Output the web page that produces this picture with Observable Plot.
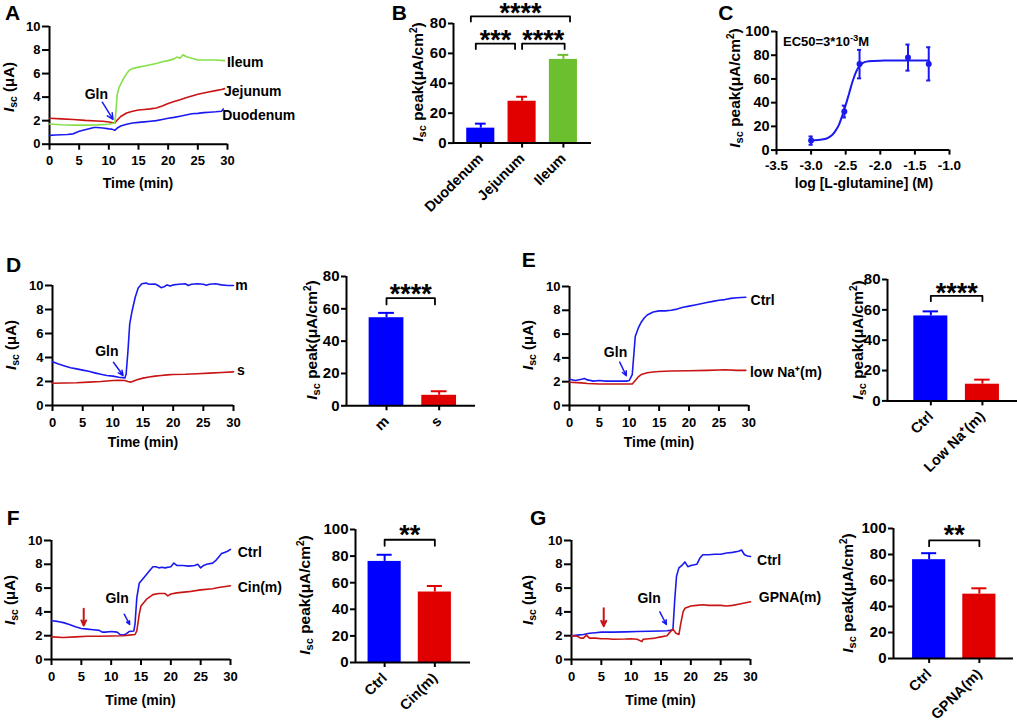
<!DOCTYPE html>
<html><head><meta charset="utf-8">
<script src="https://cdn.jsdelivr.net/npm/d3@7"></script>
<script src="https://cdn.jsdelivr.net/npm/@observablehq/plot@0.6"></script>
<style>
body{margin:0;background:#fff;}
#fig{position:relative;width:1017px;height:726px;overflow:hidden;background:#fff;font-family:"Liberation Sans",Arial,sans-serif;}
#fig svg{overflow:visible;}
</style></head><body><div id="fig"></div>
<script>
// ---------- DATA ----------
const timeTicks = [0,5,10,15,20,25,30];
const iscTicks = [0,2,4,6,8,10];

// Panel A traces [time(min), Isc(uA)]
const A_duodenum = [[0,0.75],[1,0.78],[2,0.8],[3,0.82],[4,0.88],[4.5,1.0],[5,1.1],[6,1.22],[7,1.35],[7.5,1.42],[8,1.42],[9,1.38],[10,1.3],[10.5,1.28],[11,1.18],[11.5,1.4],[12,1.55],[13,1.7],[14,1.8],[15,1.85],[16,1.9],[17,1.95],[18,2.0],[19,2.1],[20,2.2],[21,2.28],[22,2.38],[23,2.48],[24,2.58],[25,2.62],[26,2.68],[27,2.72],[28,2.75],[29,2.8],[29.3,3.0]];
const A_jejunum = [[0,2.2],[2,2.15],[4,2.1],[6,2.02],[8,1.97],[9,1.95],[10,1.88],[11,1.8],[11.5,2.1],[12,2.35],[13,2.65],[14,2.8],[15,2.9],[16,2.95],[17,3.0],[18,3.08],[19,3.25],[20,3.45],[21,3.62],[22,3.78],[23,3.95],[24,4.1],[25,4.25],[26,4.35],[27,4.45],[28,4.55],[29,4.65],[29.5,4.72]];
const A_ileum = [[0,1.72],[2,1.65],[4,1.62],[6,1.62],[8,1.64],[10,1.7],[11,1.8],[11.2,2.8],[11.4,4.2],[11.7,4.8],[12,5.1],[12.5,5.6],[13,6.0],[13.5,6.3],[14,6.42],[15,6.55],[16,6.65],[17,6.75],[18,6.85],[19,7.0],[20,7.1],[21,7.25],[21.5,7.4],[22,7.3],[22.5,7.6],[23,7.45],[24,7.3],[25,7.15],[26,7.15],[27,7.15],[28,7.15],[29.5,7.1]];

// Panel B
const B_cats = ["Duodenum","Jejunum","Ileum"];
const B_mean = [10,28,56];
const B_err = [3,3,3];

// Panel C dose-response
const C_logConc = [-3.0,-2.52,-2.3,-1.6,-1.3];
const C_mean = [8,32.5,72.5,78,72.7];
const C_err = [3.5,5,12,11,14];
const C_fitX = [-3.0,-2.9,-2.8,-2.75,-2.7,-2.65,-2.6,-2.55,-2.5,-2.45,-2.4,-2.35,-2.3,-2.25,-2.2,-2.1,-2.0,-1.8,-1.6,-1.3];
const C_fitY = [8.3,8.5,9.3,10.5,12.5,16,21,29,38,48,58,66,71,73.5,74.6,75.2,75.4,75.5,75.5,75.5];

// Panel D
const D_m = [[0,3.65],[1,3.45],[2,3.3],[3,3.15],[4,3.05],[5,2.95],[6,2.85],[7,2.72],[8,2.6],[9,2.5],[10,2.45],[11,2.35],[12,2.3],[12.2,2.6],[12.5,4.5],[12.8,6.8],[13.2,7.9],[13.7,9.0],[14.2,9.8],[14.8,10.15],[15.5,10.2],[16,10.1],[17,10.12],[17.5,10.0],[18,9.82],[18.5,9.9],[19,10.05],[19.5,9.95],[20,10.05],[21,10.1],[22,10.15],[22.5,10.0],[23,10.1],[24,10.15],[25,10.1],[25.5,10.02],[26,10.1],[27,10.15],[28,10.05],[29,10.0],[30,10.0]];
const D_s = [[0,1.85],[2,1.88],[4,1.9],[6,1.95],[8,2.0],[10,2.08],[11,2.1],[12,2.08],[12.5,2.0],[13,1.95],[13.5,2.05],[14,2.15],[15,2.28],[16,2.38],[17,2.45],[18,2.5],[19,2.55],[20,2.58],[22,2.6],[24,2.65],[26,2.7],[28,2.75],[30,2.8]];
const D_cats = ["m","s"];
const D_mean = [54.5,6.5];
const D_err = [3,2.5];

// Panel E
const E_ctrl = [[0,2.2],[1,2.1],[2,2.2],[2.5,2.27],[3,2.15],[4,2.05],[5,2.1],[6,2.05],[8,2.05],[9.5,2.05],[10,2.1],[10.5,2.6],[11,5.8],[11.5,6.5],[12,7.0],[12.5,7.35],[13,7.6],[14,7.85],[15,7.95],[16,7.95],[17,8.0],[18,8.1],[19,8.25],[20,8.35],[21,8.45],[22,8.55],[23,8.65],[24,8.75],[25,8.85],[26,8.9],[27,9.0],[28,9.05],[29.5,9.1]];
const E_lowNa = [[0,1.95],[2,1.9],[3,1.85],[5,1.8],[8,1.8],[10.5,1.8],[11,2.1],[11.5,2.4],[12,2.6],[13,2.75],[14,2.82],[15,2.85],[17,2.9],[20,2.92],[23,2.95],[25,2.98],[26,3.0],[28,2.95],[29.5,2.95]];
const E_cats = ["Ctrl","Low Na\u207A(m)"];
const E_mean = [56,11];
const E_err = [3,3];

// Panel F
const F_ctrl = [[0,3.25],[1,3.2],[2,3.1],[3,2.95],[4,2.75],[5,2.6],[6,2.55],[7,2.5],[8,2.45],[8.5,2.3],[9,2.3],[10,2.35],[11,2.3],[11.5,2.1],[12,2.05],[12.5,2.15],[13,2.35],[13.8,2.4],[14,3.0],[14.3,5.2],[14.7,6.4],[15.5,6.9],[16.5,7.5],[17,7.8],[17.5,7.8],[18,7.7],[18.5,7.75],[19,7.7],[20,7.8],[20.5,8.1],[21,7.9],[22,7.9],[23,7.85],[24,7.9],[24.5,8.0],[25,7.7],[25.5,7.9],[26,8.0],[27,8.1],[27.5,8.3],[28,8.6],[28.5,8.9],[29,9.0],[29.5,9.1],[30,9.25]];
const F_cin = [[0,1.9],[2,1.85],[4,1.9],[6,1.95],[8,1.95],[10,1.98],[12,2.0],[13,2.05],[14,2.1],[14.3,2.4],[14.7,3.8],[15,4.5],[16,5.1],[17,5.45],[18,5.55],[19,5.55],[19.5,5.35],[20,5.5],[21,5.6],[23,5.7],[25,5.85],[27,5.95],[28,6.05],[30,6.2]];
const F_cats = ["Ctrl","Cin(m)"];
const F_mean = [76,53];
const F_err = [5,4.5];

// Panel G
const G_ctrl = [[0,2.0],[1,2.05],[2,2.1],[3,2.2],[4,2.25],[5,2.3],[7,2.3],[9,2.32],[11,2.35],[13,2.37],[15,2.4],[16,2.42],[16.5,2.45],[17,2.5],[17.3,5.0],[17.6,7.0],[18,7.7],[18.5,7.9],[19,8.2],[19.5,7.8],[20,7.9],[21,8.0],[21.5,8.5],[22,8.8],[23,8.8],[24,8.85],[25,8.85],[26,8.95],[27,9.0],[28,9.1],[28.5,9.2],[29,8.8],[29.5,8.7],[30,8.65]];
const G_gpna = [[0,2.0],[1,1.95],[1.5,1.8],[2,1.8],[2.5,2.05],[3,1.8],[4,1.8],[5,1.75],[6,1.75],[7,1.7],[9,1.72],[10,1.75],[11,1.7],[11.8,1.5],[12,1.7],[13,1.75],[14,1.8],[15,1.9],[16,2.0],[16.5,2.3],[17,2.55],[17.5,2.2],[18,2.1],[18.3,3.0],[18.7,4.0],[19,4.3],[20,4.5],[21,4.55],[22,4.6],[23,4.55],[24,4.55],[25,4.55],[26,4.5],[27,4.55],[28,4.65],[29,4.75],[30,4.85]];
const G_cats = ["Ctrl","GPNA(m)"];
const G_mean = [76,49.5];
const G_err = [5,4.5];

// ---------- STYLE ----------
const FONT = "Liberation Sans, Arial, Helvetica, sans-serif";
const L_BLUE = "#1a1af0", L_RED = "#c81414", L_GREEN = "#86e04a";
const B_BLUE = "#0000ff", B_RED = "#e00000", B_GREEN = "#6cbf2e";

const fig = document.getElementById("fig");
const rowsOf = pairs => pairs.map(([t, v]) => ({t, v}));

function mount(p, left, top) {
  p.style.position = "absolute";
  p.style.left = left + "px";
  p.style.top = top + "px";
  fig.appendChild(p);
}

function tracePanel(cfg) {
  const [x0, x1, yTop, yBot] = cfg.frame;
  const ml = 45, mr = 110, mt = 10, mb = 40;
  const marks = [
    Plot.ruleY([0], {strokeWidth: 2}),
    Plot.ruleX([0], {strokeWidth: 2}),
    Plot.axisX({ticks: timeTicks, tickSize: 6, tickPadding: 6, strokeWidth: 2, fontSize: 13, fontWeight: "bold", label: null}),
    Plot.axisY({ticks: iscTicks, tickSize: 7, tickPadding: 2, strokeWidth: 2, fontSize: 13, fontWeight: "bold", label: null})
  ];
  for (const s of cfg.series) {
    marks.push(Plot.line(rowsOf(s.data), {x: "t", y: "v", stroke: s.color, strokeWidth: 1.6}));
  }
  marks.push(Plot.text(cfg.labels, {x: "t", y: "v", text: "label", textAnchor: "start", fontSize: 14, fontWeight: "bold"}));
  marks.push(Plot.text([cfg.gln], {x: "t", y: "v", text: () => "Gln", fontSize: 14, fontWeight: "bold"}));
  marks.push(Plot.arrow([cfg.glnArrow], {x1: "x1", y1: "y1", x2: "x2", y2: "y2", stroke: L_BLUE, strokeWidth: 1.5, headLength: 9, headAngle: 50}));
  if (cfg.redArrow) marks.push(Plot.arrow([cfg.redArrow], {x1: "x1", y1: "y1", x2: "x2", y2: "y2", stroke: L_RED, strokeWidth: 2, headLength: 8, headAngle: 50}));
  const p = Plot.plot({
    width: x1 - x0 + ml + mr, height: yBot - yTop + mt + mb,
    marginLeft: ml, marginRight: mr, marginTop: mt, marginBottom: mb,
    style: {background: "transparent", overflow: "visible", fontFamily: FONT, color: "#000"},
    x: {domain: [0, 30]}, y: {domain: [0, 10]},
    marks
  });
  mount(p, x0 - ml, yTop - mt);
}

function barPanel(cfg) {
  const [x0, x1, yTop, yBot] = cfg.frame;
  const ml = 45, mr = 20, mt = 40, mb = 90;
  const rows = cfg.cats.map((c, i) => ({i: i + 1, cat: c, v: cfg.mean[i], e: cfg.err[i], color: cfg.colors[i]}));
  const hw = cfg.hw, cw = cfg.cw;
  const br = cfg.brackets.flatMap((b, k) => [[b.x1, b.drop], [b.x1, b.top], [b.x2, b.top], [b.x2, b.drop]].map(([x, y]) => ({x, y, k})));
  const p = Plot.plot({
    width: x1 - x0 + ml + mr, height: yBot - yTop + mt + mb,
    marginLeft: ml, marginRight: mr, marginTop: mt, marginBottom: mb,
    style: {background: "transparent", overflow: "visible", fontFamily: FONT, color: "#000"},
    x: {domain: cfg.xdomain}, y: {domain: cfg.ydomain},
    color: {type: "identity"},
    marks: [
      Plot.rect(rows, {x1: d => d.i - hw, x2: d => d.i + hw, y1: () => 0, y2: "v", fill: "color"}),
      Plot.ruleX(rows, {x: "i", y1: "v", y2: d => d.v + d.e, stroke: "color", strokeWidth: 2}),
      Plot.ruleY(rows, {y: d => d.v + d.e, x1: d => d.i - cw, x2: d => d.i + cw, stroke: "color", strokeWidth: 2}),
      Plot.ruleY([0], {strokeWidth: 2}),
      Plot.ruleX([cfg.xdomain[0]], {strokeWidth: 2}),
      Plot.axisY({ticks: cfg.yticks, tickSize: 5, tickPadding: 2, strokeWidth: 2, fontSize: 15, fontWeight: "bold", label: null}),
      Plot.axisX({ticks: rows.map(d => d.i), tickFormat: i => cfg.cats[i - 1], tickRotate: -45, tickSize: 5, tickPadding: 8, strokeWidth: 2, fontSize: 14.5, fontWeight: "bold", label: null}),
      Plot.line(br, {x: "x", y: "y", z: "k", strokeWidth: 1.8}),
      Plot.text(cfg.brackets, {x: d => (d.x1 + d.x2) / 2, y: "star", text: "label", fontSize: 27, fontWeight: "bold", dy: 8})
    ]
  });
  mount(p, x0 - ml, yTop - mt);
}

// ---------- PANELS ----------
tracePanel({
  frame: [49, 227, 26, 143.7],
  series: [{data: A_duodenum, color: L_BLUE}, {data: A_jejunum, color: L_RED}, {data: A_ileum, color: L_GREEN}],
  labels: [{t: 29.9, v: 6.97, label: "Ileum"}, {t: 29.4, v: 4.5, label: "Jejunum"}, {t: 29.1, v: 2.44, label: "Duodenum"}],
  gln: {t: 7.9, v: 4.2},
  glnArrow: {x1: 8.9, y1: 3.57, x2: 10.7, y2: 2.1}
});

barPanel({
  frame: [452.7, 590.7, 22.7, 142.3], xdomain: [0.34, 3.68], ydomain: [0, 80], yticks: [0, 20, 40, 60, 80],
  cats: B_cats, mean: B_mean, err: B_err, colors: [B_BLUE, B_RED, B_GREEN], hw: 0.34, cw: 0.13,
  brackets: [
    {x1: 0.88, x2: 1.83, top: 66.6, drop: 62.9, star: 74, label: "***"},
    {x1: 2.0, x2: 3.03, top: 66.6, drop: 62.9, star: 74, label: "****"},
    {x1: 0.76, x2: 3.16, top: 84.7, drop: 81.3, star: 91.8, label: "****"}
  ]
});

// Panel C
{
  const ml = 45, mr = 20, mt = 10, mb = 40;
  const x0 = 775.7, x1 = 948.7, yTop = 30.7, yBot = 149.3;
  const pts = C_logConc.map((x, i) => ({x, v: C_mean[i], e: C_err[i]}));
  const fit = C_fitX.map((x, i) => ({x, y: C_fitY[i]}));
  const cw = 0.03;
  const p = Plot.plot({
    width: x1 - x0 + ml + mr, height: yBot - yTop + mt + mb,
    marginLeft: ml, marginRight: mr, marginTop: mt, marginBottom: mb,
    style: {background: "transparent", overflow: "visible", fontFamily: FONT, color: "#000"},
    x: {domain: [-3.5, -1.0]}, y: {domain: [0, 100]},
    marks: [
      Plot.ruleY([0], {strokeWidth: 2}),
      Plot.ruleX([-3.5], {strokeWidth: 2}),
      Plot.axisX({ticks: [-3.5, -3.0, -2.5, -2.0, -1.5, -1.0], tickFormat: d => d.toFixed(1), tickSize: 5, tickPadding: 5, strokeWidth: 2, fontSize: 13.5, fontWeight: "bold", label: null}),
      Plot.axisY({ticks: [0, 20, 40, 60, 80, 100], tickSize: 5, tickPadding: 2, strokeWidth: 2, fontSize: 14.5, fontWeight: "bold", label: null}),
      Plot.line(fit, {x: "x", y: "y", stroke: L_BLUE, strokeWidth: 2, curve: "monotone-x"}),
      Plot.ruleX(pts, {x: "x", y1: d => d.v - d.e, y2: d => d.v + d.e, stroke: L_BLUE, strokeWidth: 2}),
      Plot.ruleY(pts, {y: d => d.v + d.e, x1: d => d.x - cw, x2: d => d.x + cw, stroke: L_BLUE, strokeWidth: 2}),
      Plot.ruleY(pts, {y: d => d.v - d.e, x1: d => d.x - cw, x2: d => d.x + cw, stroke: L_BLUE, strokeWidth: 2}),
      Plot.dot(pts, {x: "x", y: "v", r: 3, fill: L_BLUE})
    ]
  });
  mount(p, x0 - ml, yTop - mt);
}

tracePanel({
  frame: [52.3, 233.3, 285.3, 405.3],
  series: [{data: D_m, color: L_BLUE}, {data: D_s, color: L_RED}],
  labels: [{t: 30.3, v: 9.97, label: "m"}, {t: 30.6, v: 2.88, label: "s"}],
  gln: {t: 9.0, v: 4.5},
  glnArrow: {x1: 10.1, y1: 3.6, x2: 11.7, y2: 2.5}
});
barPanel({
  frame: [346, 475, 276, 405.3], xdomain: [0.24, 2.69], ydomain: [0, 80], yticks: [0, 20, 40, 60, 80],
  cats: D_cats, mean: D_mean, err: D_err, colors: [B_BLUE, B_RED], hw: 0.33, cw: 0.15,
  brackets: [{x1: 1, x2: 1.92, top: 66.6, drop: 62.7, star: 73.8, label: "****"}]
});

tracePanel({
  frame: [569, 748.3, 286, 405],
  series: [{data: E_ctrl, color: L_BLUE}, {data: E_lowNa, color: L_RED}],
  labels: [{t: 30.3, v: 8.8, label: "Ctrl"}, {t: 30.2, v: 2.8, label: "low Na\u207A(m)"}],
  gln: {t: 7.7, v: 4.48},
  glnArrow: {x1: 8.4, y1: 3.65, x2: 9.5, y2: 2.5}
});
barPanel({
  frame: [886.7, 1016.7, 279.3, 400.7], xdomain: [0.16, 2.68], ydomain: [0, 80], yticks: [0, 20, 40, 60, 80],
  cats: E_cats, mean: E_mean, err: E_err, colors: [B_BLUE, B_RED], hw: 0.33, cw: 0.15,
  brackets: [{x1: 1, x2: 2, top: 69.2, drop: 65.7, star: 76.2, label: "****"}]
});

tracePanel({
  frame: [51, 230, 540, 659],
  series: [{data: F_ctrl, color: L_BLUE}, {data: F_cin, color: L_RED}],
  labels: [{t: 31.2, v: 9.0, label: "Ctrl"}, {t: 31.2, v: 6.08, label: "Cin(m)"}],
  gln: {t: 11.0, v: 5.1},
  glnArrow: {x1: 12.2, y1: 3.8, x2: 13.1, y2: 2.94},
  redArrow: {x1: 5.4, y1: 4.26, x2: 5.4, y2: 2.86}
});
barPanel({
  frame: [355, 470, 528.7, 661.7], xdomain: [0.42, 2.71], ydomain: [0, 100], yticks: [0, 20, 40, 60, 80, 100],
  cats: F_cats, mean: F_mean, err: F_err, colors: [B_BLUE, B_RED], hw: 0.33, cw: 0.15,
  brackets: [{x1: 1, x2: 2, top: 92.3, drop: 87.7, star: 101.5, label: "**"}]
});

tracePanel({
  frame: [571, 750, 540, 659],
  series: [{data: G_ctrl, color: L_BLUE}, {data: G_gpna, color: L_RED}],
  labels: [{t: 31.1, v: 8.3, label: "Ctrl"}, {t: 31.4, v: 5.2, label: "GPNA(m)"}],
  gln: {t: 13.0, v: 5.1},
  glnArrow: {x1: 14.8, y1: 4.0, x2: 15.9, y2: 2.94},
  redArrow: {x1: 5.4, y1: 4.3, x2: 5.4, y2: 2.8}
});
barPanel({
  frame: [893.3, 1013.3, 528.3, 658.3], xdomain: [0.29, 2.68], ydomain: [0, 100], yticks: [0, 20, 40, 60, 80, 100],
  cats: G_cats, mean: G_mean, err: G_err, colors: [B_BLUE, B_RED], hw: 0.33, cw: 0.15,
  brackets: [{x1: 1, x2: 2, top: 90.8, drop: 86.4, star: 100.5, label: "**"}]
});

// ---------- OVERLAY TEXT ----------
const ov = d3.select(fig).append("svg")
  .attr("width", 1017).attr("height", 726)
  .style("position", "absolute").style("left", "0px").style("top", "0px")
  .style("pointer-events", "none")
  .attr("font-family", FONT).attr("font-weight", "bold").attr("fill", "#000");

const letters = [["A", 5, 20], ["B", 391.7, 20], ["C", 718.3, 20], ["D", 6, 271.7], ["E", 521.7, 266.7], ["F", 6.7, 525], ["G", 530, 525]];
for (const [t, x, y] of letters) ov.append("text").attr("x", x).attr("y", y).attr("font-size", 21).text(t);

function yLabel(cx, cy, peak) {
  const fs = peak ? 15.5 : 15, sub = peak ? 11 : 10.5;
  const t = ov.append("text").attr("transform", `translate(${cx},${cy}) rotate(-90)`)
    .attr("text-anchor", "middle").attr("dy", "0.35em").attr("font-size", fs);
  t.append("tspan").attr("font-style", "italic").text("I");
  t.append("tspan").attr("font-size", sub).attr("dy", 3).text("sc");
  if (peak) {
    t.append("tspan").attr("dy", -3).text(" peak(\u03BCA/cm");
    t.append("tspan").attr("font-size", 10).attr("dy", -6).text("2");
    t.append("tspan").attr("dy", 6).text(")");
  } else {
    t.append("tspan").attr("dy", -3).text(" (\u03BCA)");
  }
}
yLabel(9, 87, false); yLabel(11, 345, false); yLabel(528, 345, false); yLabel(10, 600, false); yLabel(528, 600, false);
yLabel(418, 82, true); yLabel(735, 88, true); yLabel(312, 340, true); yLabel(858, 340, true); yLabel(305, 595, true); yLabel(848, 593, true);

const xLabels = [["Time (min)", 138, 188], ["Time (min)", 143, 447], ["Time (min)", 659, 447], ["Time (min)", 140.5, 705], ["Time (min)", 660.5, 705], ["log [L-glutamine] (M)", 864, 188]];
for (const [t, x, y] of xLabels) ov.append("text").attr("x", x).attr("y", y).attr("text-anchor", "middle").attr("font-size", 14).text(t);

{
  const t = ov.append("text").attr("x", 783).attr("y", 46).attr("font-size", 13);
  t.append("tspan").text("EC50=3*10");
  t.append("tspan").attr("font-size", 9.5).attr("dy", -5).text("-3");
  t.append("tspan").attr("dy", 5).text("M");
}
</script></body></html>
